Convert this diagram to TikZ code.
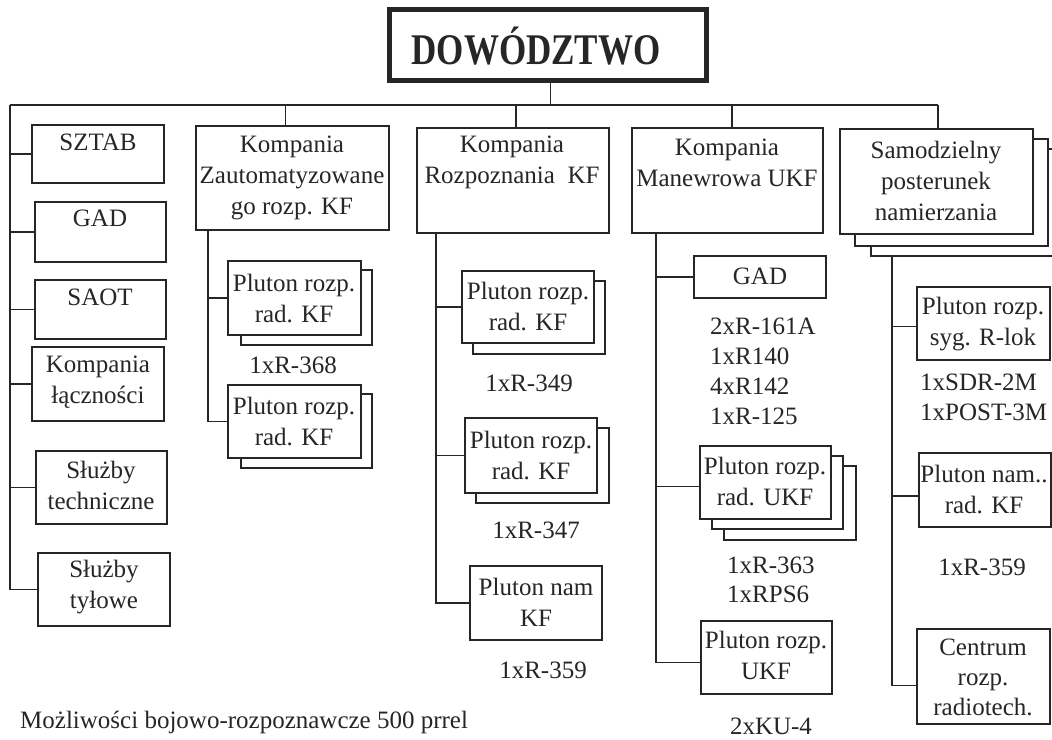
\documentclass[tikz,border=0pt]{standalone}
\usepackage{fontspec}
\setmainfont{Liberation Serif}
\usetikzlibrary{fit}
\definecolor{ink}{HTML}{262626}
\tikzset{
  box/.style={draw=ink, line width=1.3pt, fill=white, inner sep=0pt},
  txt/.style={inner sep=0pt, align=center, text=ink, font=\fontsize{25}{31}\selectfont},
  lst/.style={inner sep=0pt, align=left, anchor=west, text=ink, font=\fontsize{25}{30}\selectfont},
  wire/.style={draw=ink, line width=1.3pt},
}
\begin{document}
\begin{tikzpicture}[x=1pt,y=-1pt]
\useasboundingbox[fill=white] (0,0) rectangle (1052,739);

% title
\node[box, line width=5pt, fit={(389,9) (706,80)}] (dow) {};
\node[inner sep=0pt, text=ink, font=\fontsize{35}{40}\selectfont\bfseries] (tdow) at (536,46) {\scalebox{1}[1.25]{DOWÓDZTWO}};

% left column
\node[box, fit={(32,125) (164,183)}] (sztab) {};
\node[txt] (tsztab) at (98,142) {SZTAB};
\node[box, fit={(35,202) (166,262)}] (gad) {};
\node[txt] (tgad) at (100,218) {GAD};
\node[box, fit={(35,280) (166,339)}] (saot) {};
\node[txt] (tsaot) at (100,297) {SAOT};
\node[box, fit={(32,347) (164,421)}] (kl) {};
\node[txt] (tkl) at (98,382) {Kompania\\łączności};
\node[box, fit={(36,451) (167,524)}] (st) {};
\node[txt] (tst) at (101,485) {Służby\\techniczne};
\node[box, fit={(38,553) (170,626)}] (sty) {};
\node[txt] (tsty) at (104,587) {Służby\\tyłowe};

% Kompania Zautomatyzowanego
\node[box, fit={(196,126) (389,230)}] (kz) {};
\node[txt] (tkz) at (292,177.5) {Kompania\\Zautomatyzowane\\go rozp. KF};
\node[box, fit={(241,270) (372,345)}] (kzp1b) {};
\node[box, fit={(228,261) (361,335)}] (kzp1) {};
\node[txt] (tkzp1) at (294,298) {Pluton rozp.\\rad. KF};
\node[txt] (lkz1) at (293,365) {1xR-368};
\node[box, fit={(241,394) (372,468)}] (kzp2b) {};
\node[box, fit={(228,385) (361,458)}] (kzp2) {};
\node[txt] (tkzp2) at (294,421) {Pluton rozp.\\rad. KF};

% Kompania Rozpoznania
\node[box, fit={(417,128) (609,233)}] (kr) {};
\node[txt] (tkr) at (512,162.5) {Kompania\\Rozpoznania~~KF};
\node[box, fit={(473,281) (605,354)}] (krp1b) {};
\node[box, fit={(462,271) (594,343)}] (krp1) {};
\node[txt] (tkrp1) at (528,306) {Pluton rozp.\\rad. KF};
\node[txt] (lkr1) at (529,383) {1xR-349};
\node[box, fit={(476,428) (609,503)}] (krp2b) {};
\node[box, fit={(465,418) (597,493)}] (krp2) {};
\node[txt] (tkrp2) at (531,455) {Pluton rozp.\\rad. KF};
\node[txt] (lkr2) at (536,530) {1xR-347};
\node[box, fit={(470,566) (602,640)}] (krn) {};
\node[txt] (tkrn) at (536,602) {Pluton nam\\KF};
\node[txt] (lkr3) at (543,670) {1xR-359};

% Kompania Manewrowa
\node[box, fit={(632,128) (823,233)}] (km) {};
\node[txt] (tkm) at (727,162.5) {Kompania\\Manewrowa UKF};
\node[box, fit={(694,256) (826,298)}] (kmg) {};
\node[txt] (tkmg) at (760,276) {GAD};
\node[lst] (lkm1) at (710,371.5) {2xR-161A\\1xR140\\4xR142\\1xR-125};
\node[box, fit={(724,466) (856,540)}] (kmp2b) {};
\node[box, fit={(712,456) (843,529)}] (kmp1b) {};
\node[box, fit={(700,446) (831,519)}] (kmp) {};
\node[txt] (tkmp) at (765,481) {Pluton rozp.\\rad. UKF};
\node[lst, font=\fontsize{25}{29}\selectfont] (lkm2) at (727,579.5) {1xR-363\\1xRPS6};
\node[box, fit={(701,621) (832,694)}] (kmu) {};
\node[txt] (tkmu) at (766,655.5) {Pluton rozp.\\UKF};
\node[txt] (lkm3) at (771,726) {2xKU-4};

% Samodzielny posterunek
\node[box, fit={(871,149) (1064,256)}] (sp2b) {};
\node[box, fit={(855,139) (1048,246)}] (sp1b) {};
\node[box, fit={(840,129) (1033,234)}] (sp) {};
\node[txt] (tsp) at (936,180.5) {Samodzielny\\posterunek\\namierzania};
\node[box, fit={(917,287) (1050,360)}] (spr) {};
\node[txt] (tspr) at (983,324) {Pluton rozp.\\syg. R-lok};
\node[lst] (lsp1) at (920,397) {1xSDR-2M\\1xPOST-3M};
\node[box, fit={(919,453) (1051,527)}] (spn) {};
\node[txt] (tspn) at (984,489) {Pluton nam..\\rad. KF};
\node[txt] (lsp2) at (982,567) {1xR-359};
\node[box, fit={(917,629) (1050,724)}] (spc) {};
\node[txt, font=\fontsize{25}{30}\selectfont] (tspc) at (983,677) {Centrum\\rozp.\\radiotech.};

% bottom note
\node[lst] (note) at (20,722) {Możliwości bojowo-rozpoznawcze 500 prrel};

% connectors
\coordinate (busL) at (10,105);
\coordinate (kzt) at ([xshift=-7pt]kz.north);
\coordinate (krt) at ([xshift=3pt]kr.north);
\coordinate (kmt) at ([xshift=4.5pt]km.north);
\coordinate (spt) at ([xshift=1.5pt]sp.north);
\coordinate (dowb) at ([xshift=3pt]dow.south);
\draw[wire] (dowb) -- (dowb |- busL);
\draw[wire] (busL) -- (spt |- busL);
\draw[wire] (kzt) -- (kzt |- busL);
\draw[wire] (krt) -- (krt |- busL);
\draw[wire] (kmt) -- (kmt |- busL);
\draw[wire] (spt) -- (spt |- busL);

\draw[wire] (busL) |- (sty.west);
\draw[wire] (busL |- sztab.west) -- (sztab.west);
\draw[wire] (busL |- gad.west) -- (gad.west);
\draw[wire] (busL |- saot.west) -- (saot.west);
\draw[wire] (busL |- kl.west) -- (kl.west);
\draw[wire] (busL |- st.west) -- (st.west);

\coordinate (kzs) at (208,230);
\draw[wire] (kzs) |- (kzp2.west);
\draw[wire] (kzs |- kzp1.west) -- (kzp1.west);

\coordinate (krs) at (436,233);
\draw[wire] (krs) |- (krn.west);
\draw[wire] (krs |- krp1.west) -- (krp1.west);
\draw[wire] (krs |- krp2.west) -- (krp2.west);

\coordinate (kms) at (656,233);
\draw[wire] (kms) |- ([yshift=-5pt]kmu.west);
\draw[wire] (kms |- kmg.west) -- (kmg.west);
\draw[wire] ([yshift=-4pt]kms |- kmp.west) -- ([yshift=-4pt]kmp.west);

\coordinate (sps) at (892,256);
\draw[wire] (sps) |- ([yshift=-9pt]spc.west);
\draw[wire] ([yshift=-3pt]sps |- spr.west) -- ([yshift=-3pt]spr.west);
\draw[wire] ([yshift=-6pt]sps |- spn.west) -- ([yshift=-6pt]spn.west);
\end{tikzpicture}
\end{document}
